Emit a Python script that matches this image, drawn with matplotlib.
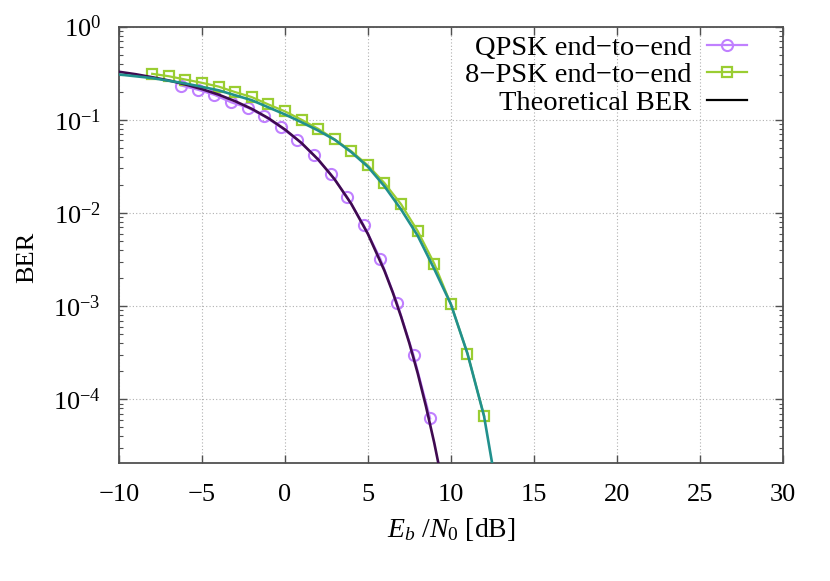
import numpy as np
import matplotlib
matplotlib.use('Agg')
import matplotlib.pyplot as plt
from matplotlib.ticker import LogLocator, MultipleLocator, NullFormatter

# ─── Data ─────────────────────────────────────────────────────────
qpsk_ebn0 = [-6.25, -5.25, -4.25, -3.25, -2.25, -1.25, -0.25, 0.75, 1.75,
             2.75, 3.75, 4.75, 5.75, 6.75, 7.75, 8.75]
qpsk_ber = [0.233, 0.210, 0.185, 0.154, 0.135, 0.109, 0.0833, 0.0610, 0.0414,
            0.0261, 0.0148, 0.00736, 0.00322, 0.00109, 2.98e-4, 6.24e-5]

psk8_ebn0 = [-8, -7, -6, -5, -4, -3, -2, -1, 0, 1, 2, 3, 4, 5, 6, 7, 8, 9, 10, 11, 12]
psk8_ber = [0.311, 0.293, 0.270, 0.249, 0.227, 0.198, 0.175, 0.146, 0.123, 0.100,
            0.080, 0.0615, 0.046, 0.0324, 0.0209, 0.0124, 0.0064, 0.00286,
            0.00105, 3.1e-4, 6.65e-5]

theo_qpsk_ebn0 = [-10, -9, -8, -7, -6, -5, -4, -3, -2, -1, 0, 1, 2, 3, 4, 5, 6,
                  6.5, 7, 7.5, 8, 8.5, 9, 9.25]
theo_qpsk_ber = [0.327, 0.308, 0.286, 0.264, 0.239, 0.213, 0.186, 0.158, 0.131,
                 0.104, 0.0786, 0.0563, 0.0375, 0.0229, 0.0125, 0.00595, 0.00239,
                 1.40e-3, 7.7e-4, 3.99e-4, 1.91e-4, 8.4e-5, 3.4e-5, 2.05e-5]

theo_8psk_ebn0 = [-10, -8, -6, -4, -2, 0, 1, 2, 3, 4, 5, 6, 7, 8, 9, 10, 11, 12, 12.5]
theo_8psk_ber = [0.306, 0.280, 0.245, 0.207, 0.162, 0.114, 0.094, 0.0766, 0.061,
                 0.0449, 0.0313, 0.0193, 0.0109, 0.0057, 0.0025, 0.00105,
                 3.1e-4, 6.6e-5, 2.0e-5]

# ─── Style ────────────────────────────────────────────────────────
matplotlib.rcParams.update({
    'font.family': 'Liberation Serif',
    'mathtext.fontset': 'custom',
    'mathtext.rm': 'Liberation Serif',
    'mathtext.it': 'Liberation Serif:italic',
    'font.size': 19,
})

fig = plt.figure(figsize=(8.3, 5.81), dpi=100)
ax = fig.add_axes([0.1434, 0.203, 0.7996, 0.7513])

ax.plot(qpsk_ebn0, qpsk_ber, '-o', color='#c080ff', lw=1.6, ms=8,
        mfc='none', mew=1.5, label='QPSK end\u2212to\u2212end', zorder=3)
ax.plot(psk8_ebn0, psk8_ber, '-s', color='#9acd32', lw=1.6, ms=7.5,
        mfc='none', mew=1.6, label='8\u2212PSK end\u2212to\u2212end', zorder=3)
ax.plot(theo_qpsk_ebn0, theo_qpsk_ber, '-', color='#3f0a50', lw=1.9, zorder=4)
ax.plot(theo_8psk_ebn0, theo_8psk_ber, '-', color='#21908d', lw=1.9, zorder=4)
ax.plot([], [], '-', color='black', lw=1.6, label='Theoretical BER')

ax.set_yscale('log')
ax.set_xlim(-10, 30)
ax.set_ylim(2.07e-5, 1)
ax.xaxis.set_major_locator(MultipleLocator(5))
ax.yaxis.set_major_locator(LogLocator(base=10, numticks=10))
ax.yaxis.set_minor_locator(LogLocator(base=10, subs=np.arange(2, 10), numticks=10))
ax.yaxis.set_minor_formatter(NullFormatter())

ax.tick_params(which='both', direction='in', top=True, right=True, color='#505050')
ax.tick_params(axis='x', which='major', pad=15)
ax.tick_params(axis='y', which='major', pad=13)
ax.tick_params(which='major', length=6, width=1)
ax.tick_params(which='minor', length=3, width=0.8)
for s in ax.spines.values():
    s.set_color('#505050')
    s.set_linewidth(1.3)

ax.grid(True, which='major', color='#b0b0b0', linestyle=(0, (1, 2)), linewidth=0.8)

ax.set_xlabel(r'$E_b\ /N_0$ [dB]', fontsize=20, labelpad=7)
ax.set_ylabel('BER')
ax.yaxis.set_label_coords(-0.122, 0.471)

ax.legend(loc='upper right', bbox_to_anchor=(0.946, 0.981), fontsize=20.5,
          frameon=False, markerfirst=False, numpoints=1, borderpad=0,
          borderaxespad=0, handlelength=1.4, labelspacing=0.06, handletextpad=0.56)

fig.savefig('out.png', dpi=100)
